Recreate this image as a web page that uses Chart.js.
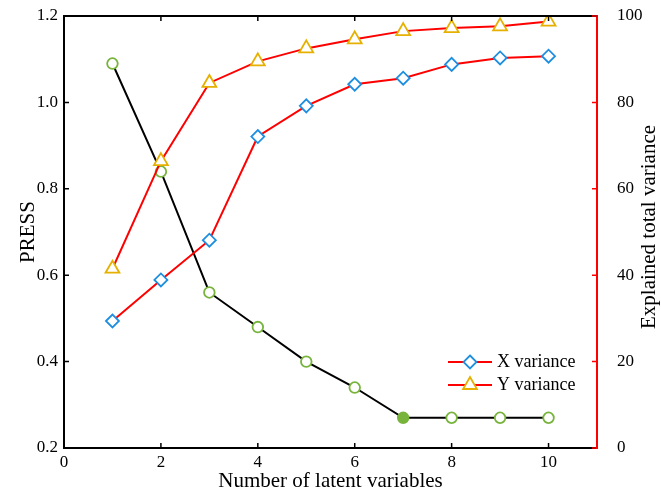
<!DOCTYPE html>
<html>
<head>
<meta charset="utf-8">
<script src="https://cdn.jsdelivr.net/npm/chart.js@4"></script>
<style>
html,body{margin:0;padding:0;background:#fff;}
#wrap{width:661px;height:496px;}
</style>
</head>
<body>
<div id="wrap"><canvas id="c" width="661" height="496"></canvas></div>
<script>
/* data */
const latentVars=[1,2,3,4,5,6,7,8,9,10];
const press=[1.09,0.84,0.56,0.48,0.40,0.34,0.27,0.27,0.27,0.27];
const xVariance=[29.4,38.9,48.1,72.1,79.2,84.2,85.6,88.8,90.3,90.7];
const yVariance=[41.5,66.4,84.5,89.5,92.5,94.6,96.5,97.2,97.6,98.7];
const xTicks=[0,2,4,6,8,10];
const pressTicks=[0.2,0.4,0.6,0.8,1.0,1.2];
const varTicks=[0,20,40,60,80,100];
const bestIndex=6;

const serif="'Liberation Serif','Times New Roman',serif";
const GREEN="#78b43c", BLUE="#1e8fe0", GOLD="#e6b000", RED="#ff0000";

const pts=arr=>arr.map((v,i)=>({x:latentVars[i],y:v}));

/* inner ticks, top border, legend, right title */
const frame={
id:"frame",
afterDraw(chart){
const ctx=chart.ctx, a=chart.chartArea;
const sx=chart.scales.x, sy=chart.scales.y, sy1=chart.scales.y1;
ctx.save();
ctx.lineWidth=2;
ctx.strokeStyle="#000";
ctx.beginPath();
ctx.moveTo(a.left-1,a.top);ctx.lineTo(a.right,a.top);
ctx.stroke();
ctx.lineWidth=1.5;
ctx.beginPath();
xTicks.forEach(v=>{
const x=sx.getPixelForValue(v);
ctx.moveTo(x,a.bottom);ctx.lineTo(x,a.bottom-5);
ctx.moveTo(x,a.top);ctx.lineTo(x,a.top+5);
});
pressTicks.forEach(v=>{
const y=sy.getPixelForValue(v);
ctx.moveTo(a.left,y);ctx.lineTo(a.left+5,y);
});
ctx.stroke();
ctx.strokeStyle=RED;
ctx.beginPath();
varTicks.forEach(v=>{
const y=sy1.getPixelForValue(v);
ctx.moveTo(a.right,y);ctx.lineTo(a.right-5,y);
});
ctx.stroke();

/* legend */
const items=[
{label:"X variance",shape:"diamond",color:BLUE,y:362},
{label:"Y variance",shape:"triangle",color:GOLD,y:385}
];
items.forEach(it=>{
ctx.strokeStyle=RED;ctx.lineWidth=2;
ctx.beginPath();ctx.moveTo(448,it.y);ctx.lineTo(492,it.y);ctx.stroke();
ctx.fillStyle="#fff";ctx.strokeStyle=it.color;ctx.lineWidth=1.8;
ctx.beginPath();
const cx=470,cy=it.y;
if(it.shape==="diamond"){
ctx.moveTo(cx,cy-6.5);ctx.lineTo(cx+6.5,cy);ctx.lineTo(cx,cy+6.5);ctx.lineTo(cx-6.5,cy);
}else{
const r=8;
ctx.moveTo(cx,cy-r);ctx.lineTo(cx+r*0.866,cy+r/2);ctx.lineTo(cx-r*0.866,cy+r/2);
}
ctx.closePath();ctx.fill();ctx.stroke();
ctx.fillStyle="#000";ctx.font="18px "+serif;ctx.textBaseline="middle";ctx.textAlign="left";
ctx.fillText(it.label,497,it.y);
});

/* right axis title, reading upwards */
ctx.translate(649,(a.top+a.bottom)/2-5);
ctx.rotate(-Math.PI/2);
ctx.font="21px "+serif;ctx.textAlign="center";ctx.textBaseline="middle";ctx.fillStyle="#000";
ctx.fillText("Explained total variance",0,0);
ctx.restore();
}
};

function fitV(s){s.width=64;s.paddingTop=0;s.paddingBottom=0;}

new Chart(document.getElementById("c"),{
type:"line",
data:{
datasets:[
{
label:"Y variance",
data:pts(yVariance),
yAxisID:"y1",
borderColor:RED,borderWidth:2,
pointStyle:"triangle",pointRadius:8,pointBorderWidth:1.8,
pointBorderColor:GOLD,pointBackgroundColor:"#fff",
order:1
},
{
label:"X variance",
data:pts(xVariance),
yAxisID:"y1",
borderColor:RED,borderWidth:2,
pointStyle:"rectRot",pointRadius:6.5,pointBorderWidth:1.8,
pointBorderColor:BLUE,pointBackgroundColor:"#fff",
order:2
},
{
label:"PRESS",
data:pts(press),
yAxisID:"y",
borderColor:"#000",borderWidth:2,
pointStyle:"circle",pointRadius:5.3,pointBorderWidth:1.8,
pointBorderColor:GREEN,
pointBackgroundColor:press.map((v,i)=>i===bestIndex?GREEN:"#fff"),
order:3
}
]
},
options:{
responsive:false,
animation:false,
layout:{padding:{top:16,left:0,right:0,bottom:0}},
plugins:{legend:{display:false},tooltip:{enabled:false}},
elements:{line:{tension:0}},
scales:{
x:{
type:"linear",min:0,max:11,
afterBuildTicks:s=>{s.ticks=xTicks.map(v=>({value:v}));},
afterFit:s=>{s.height=48;s.paddingLeft=0;s.paddingRight=0;},
grid:{display:false,drawTicks:false},
border:{display:true,color:"#000",width:2},
ticks:{color:"#000",font:{family:serif,size:17},padding:4,maxRotation:0},
title:{display:true,text:"Number of latent variables",color:"#000",font:{family:serif,size:21},padding:{top:0,bottom:2}}
},
y:{
position:"left",min:0.2,max:1.2,
afterBuildTicks:s=>{s.ticks=pressTicks.map(v=>({value:v}));},
afterFit:fitV,
grid:{display:false,drawTicks:false},
border:{display:true,color:"#000",width:2},
ticks:{color:"#000",font:{family:serif,size:17},padding:6,callback:v=>v.toFixed(1)},
title:{display:true,text:"PRESS",color:"#000",font:{family:serif,size:21},padding:{top:16,bottom:0}}
},
y1:{
position:"right",min:0,max:100,
afterBuildTicks:s=>{s.ticks=varTicks.map(v=>({value:v}));},
afterFit:fitV,
grid:{display:false,drawTicks:false},
border:{display:true,color:RED,width:2},
ticks:{color:"#000",font:{family:serif,size:17},padding:20}
}
}
},
plugins:[frame]
});
</script>
</body>
</html>
